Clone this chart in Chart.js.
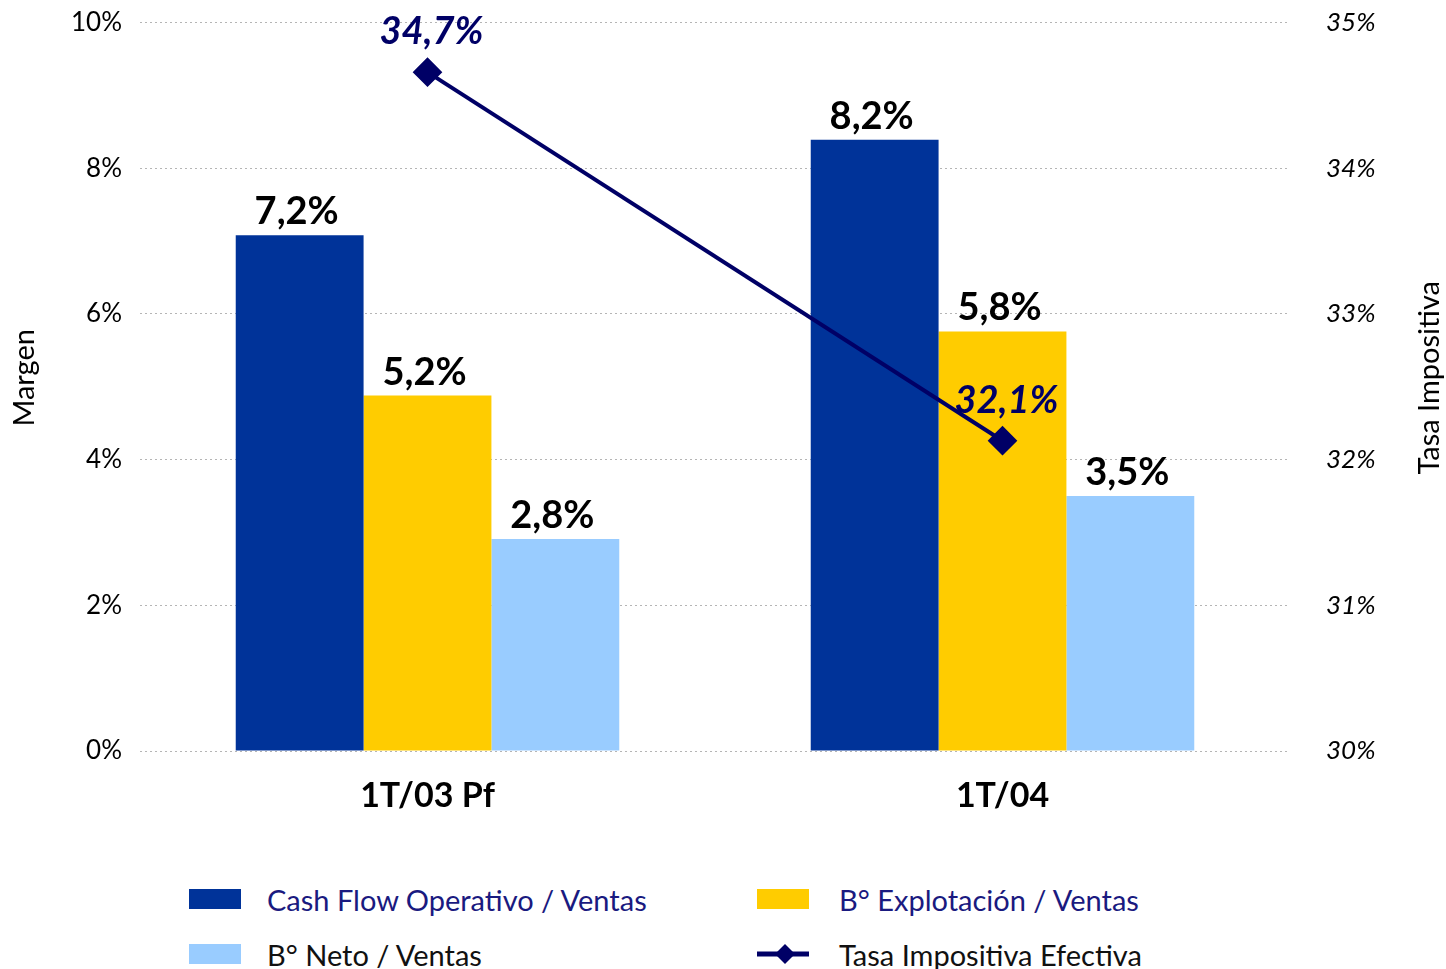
<!DOCTYPE html>
<html lang="es">
<head>
    <meta charset="UTF-8">
    <title>Margen y Tasa Impositiva</title>
    <script src="https://cdn.jsdelivr.net/npm/chart.js"></script>
    <style>
        body {
            margin: 0;
            background: #fff;
            font-family: 'Lato', sans-serif;
            width: 1446px;
            height: 969px;
            overflow: hidden;
            position: relative;
        }

        .chart-box {
            position: absolute;
            left: 0;
            top: -21px;
            width: 1446px;
            height: 886px;
        }

        .legend-item {
            position: absolute;
            font-size: 29px;
            display: flex;
            align-items: center;
            height: 30px;
        }

        .legend-item .swatch {
            width: 52px;
            height: 20px;
            margin-right: 26px;
        }

        .legend-item svg {
            margin-right: 30px;
        }
    </style>
</head>
<body>

    <div class="chart-box">
        <canvas id="chart" width="1446" height="886"></canvas>
    </div>

    <div class="legend-item" style="left:189px; top:884px; color:#1a1a80;">
        <div class="swatch" style="background:#003399;"></div>Cash Flow Operativo / Ventas
    </div>
    <div class="legend-item" style="left:757px; top:884px; color:#1a1a80;">
        <div class="swatch" style="background:#ffcc00;"></div><span style="margin-left:4px">B° Explotación / Ventas</span>
    </div>
    <div class="legend-item" style="left:189px; top:939px; color:#111;">
        <div class="swatch" style="background:#99ccff;"></div>B° Neto / Ventas
    </div>
    <div class="legend-item" style="left:757px; top:939px; color:#111;">
        <svg width="52" height="24" viewBox="0 0 52 24">
            <line x1="0" y1="12" x2="52" y2="12" stroke="#000066" stroke-width="5"/>
            <polygon points="28,2 38,12 28,22 18,12" fill="#000066"/>
        </svg>Tasa Impositiva Efectiva
    </div>

    <script>
        // Data
        const categories = ['1T/03 Pf', '1T/04'];
        const cashFlow = [7.08, 8.39];
        const explotacion = [4.88, 5.76];
        const neto = [2.91, 3.50];
        const tasa = [34.66, 32.13];

        const cashFlowLabels = ['7,2%', '8,2%'];
        const explotacionLabels = ['5,2%', '5,8%'];
        const netoLabels = ['2,8%', '3,5%'];
        const tasaLabels = ['34,7%', '32,1%'];

        const leftTicks = [0, 2, 4, 6, 8, 10];
        const rightTicks = [30, 31, 32, 33, 34, 35];

        const FONT = 'Lato, sans-serif';

        // Draw value labels above bars and points
        const valueLabels = {
            id: 'valueLabels',
            afterDatasetsDraw(chart) {
                const ctx = chart.ctx;
                ctx.save();
                ctx.textAlign = 'center';
                ctx.textBaseline = 'alphabetic';
                chart.data.datasets.forEach((ds, i) => {
                    const meta = chart.getDatasetMeta(i);
                    meta.data.forEach((el, j) => {
                        if (ds.type === 'line') {
                            ctx.font = 'italic bold 38px ' + FONT;
                            ctx.fillStyle = '#000066';
                            ctx.fillText(ds.valueText[j], el.x + 4, el.y - 28);
                        } else {
                            ctx.font = 'bold 38px ' + FONT;
                            ctx.fillStyle = '#000';
                            ctx.fillText(ds.valueText[j], el.x - 3, el.y - 11);
                        }
                    });
                });
                ctx.restore();
            }
        };

        // Axis titles, both reading bottom to top
        const axisTitles = {
            id: 'axisTitles',
            afterDraw(chart) {
                const ctx = chart.ctx;
                const area = chart.chartArea;
                const midY = (area.top + area.bottom) / 2 - 9;
                ctx.save();
                ctx.font = '29px ' + FONT;
                ctx.fillStyle = '#000';
                ctx.textAlign = 'center';
                ctx.textBaseline = 'middle';
                [[25, 'Margen'], [1430, 'Tasa Impositiva']].forEach(([x, text]) => {
                    ctx.save();
                    ctx.translate(x, midY);
                    ctx.rotate(-Math.PI / 2);
                    ctx.fillText(text, 0, 0);
                    ctx.restore();
                });
                ctx.restore();
            }
        };

        const ctx = document.getElementById('chart').getContext('2d');
        new Chart(ctx, {
            data: {
                labels: categories,
                datasets: [
                    {
                        type: 'line',
                        label: 'Tasa Impositiva Efectiva',
                        data: tasa,
                        valueText: tasaLabels,
                        yAxisID: 'y1',
                        borderColor: '#000066',
                        borderWidth: 4,
                        pointStyle: 'rectRot',
                        pointRadius: 12,
                        pointBackgroundColor: '#000066',
                        pointBorderColor: '#000066',
                        tension: 0,
                        order: 0
                    },
                    {
                        type: 'bar',
                        label: 'Cash Flow Operativo / Ventas',
                        data: cashFlow,
                        valueText: cashFlowLabels,
                        backgroundColor: '#003399',
                        yAxisID: 'y',
                        order: 1
                    },
                    {
                        type: 'bar',
                        label: 'B° Explotación / Ventas',
                        data: explotacion,
                        valueText: explotacionLabels,
                        backgroundColor: '#ffcc00',
                        yAxisID: 'y',
                        order: 1
                    },
                    {
                        type: 'bar',
                        label: 'B° Neto / Ventas',
                        data: neto,
                        valueText: netoLabels,
                        backgroundColor: '#99ccff',
                        yAxisID: 'y',
                        order: 1
                    }
                ]
            },
            options: {
                responsive: false,
                animation: false,
                layout: { padding: { top: 14 } },
                datasets: {
                    bar: { categoryPercentage: 0.667, barPercentage: 1.0 }
                },
                plugins: {
                    legend: { display: false },
                    tooltip: { enabled: false }
                },
                scales: {
                    x: {
                        grid: { display: false },
                        border: { display: false },
                        ticks: {
                            color: '#000',
                            font: { family: FONT, size: 34, weight: 'bold' },
                            padding: 17
                        },
                        afterFit(scale) { scale.height = 114; }
                    },
                    y: {
                        position: 'left',
                        min: 0,
                        max: 10,
                        afterBuildTicks(scale) {
                            scale.ticks = leftTicks.map(v => ({ value: v }));
                        },
                        ticks: {
                            color: '#000',
                            font: { family: FONT, size: 26 },
                            padding: 18,
                            callback: v => v + '%'
                        },
                        grid: { color: '#b5b5b5', lineWidth: 1, drawTicks: false },
                        border: { display: false, dash: [2, 3] },
                        afterFit(scale) { scale.width = 140; }
                    },
                    y1: {
                        position: 'right',
                        min: 30,
                        max: 35,
                        afterBuildTicks(scale) {
                            scale.ticks = rightTicks.map(v => ({ value: v }));
                        },
                        ticks: {
                            color: '#000',
                            font: { family: FONT, size: 26, style: 'italic' },
                            padding: 28,
                            callback: v => v + '%'
                        },
                        grid: { display: false },
                        border: { display: false },
                        afterFit(scale) { scale.width = 156; }
                    }
                }
            },
            plugins: [valueLabels, axisTitles]
        });
    </script>

</body>
</html>
